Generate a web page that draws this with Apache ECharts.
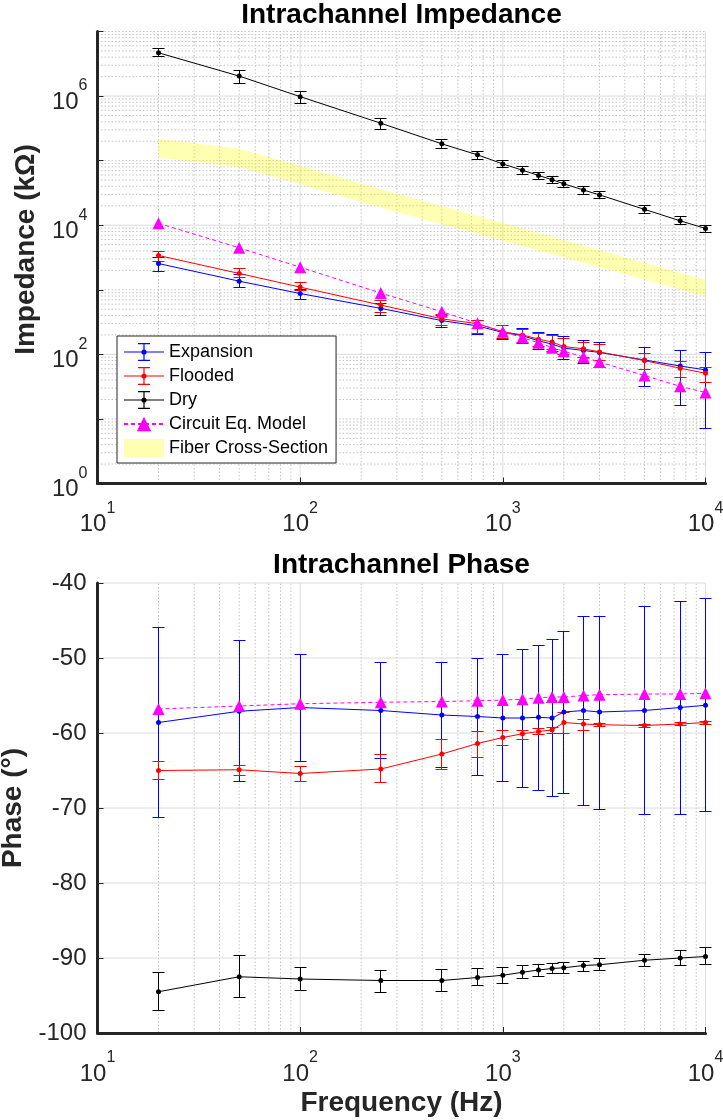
<!DOCTYPE html>
<html>
<head>
<meta charset="utf-8">
<title>Intrachannel Impedance and Phase</title>
<script src="https://cdn.jsdelivr.net/npm/echarts@6/dist/echarts.min.js"></script>
<style>
  html, body { margin: 0; padding: 0; background: #ffffff; }
  #chart { width: 723px; height: 1120px; }
</style>
</head>
<body>
<div id="chart"></div>
<script>
// ---- measurement frequencies (Hz) ----
const freq = [20, 50, 100, 250, 500, 750, 1000, 1250, 1500, 1750, 2000, 2500, 3000, 5000, 7500, 10000];

// ---- impedance magnitude (kOhm) ----
const impExpansion   = [2550, 1360, 875, 515, 333, 276, 218, 195, 162, 144, 125, 115, 107, 82, 66, 57.5];
const impExpansionLo = [1905, 1072, 700, 398, 263, 200, 168, 148, 120, 110, 84, 72, 62, 32, 16, 7];
const impExpansionHi = [3162, 1698, 1000, 603, 398, 339, 275, 248, 219, 204, 190, 162, 151, 129, 115, 107];

const impFlooded   = [3400, 1790, 1100, 580, 355, 298, 224, 200, 172, 155, 132, 122, 109, 80, 61, 51];
const impFloodedLo = [2786, 1549, 977, 447, 275, 214, 178, 155, 132, 117, 100, 89, 79, 57.5, 43.7, 36.3];
const impFloodedHi = [3981, 2138, 1318, 692, 417, 331, 275, 240, 214, 195, 174, 155, 141, 102, 77.6, 63];

const impDry   = [4.68e6, 2.04e6, 9.8e5, 3.8e5, 1.82e5, 1.23e5, 8.9e4, 7.1e4, 5.9e4, 5.07e4, 4.37e4, 3.51e4, 2.95e4, 1.76e4, 1.17e4, 8.9e3];
const impDryLo = [4.07e6, 1.55e6, 7.76e5, 3.09e5, 1.55e5, 1.04e5, 7.76e4, 6.03e4, 5.13e4, 4.37e4, 3.89e4, 3.02e4, 2.57e4, 1.51e4, 1.02e4, 7.6e3];
const impDryHi = [5.37e6, 2.51e6, 1.17e6, 4.47e5, 2.14e5, 1.38e5, 1.0e5, 8.13e4, 6.61e4, 5.75e4, 4.9e4, 3.98e4, 3.31e4, 2.04e4, 1.35e4, 1.0e4];

const impCircuit = [10700, 4470, 2240, 890, 457, 302, 224, 182, 151, 127, 112, 91, 76, 47, 32, 25.7];

// fiber cross-section estimate, drawn as a band between two bounds
const bandFreq  = [20, 50, 100, 250, 1000, 10000];
const bandUpper = [2.19e5, 1.53e5, 8.3e4, 3.6e4, 1.08e4, 1.43e3];
const bandLower = [1.12e5, 7.9e4, 4.3e4, 1.87e4, 5.75e3, 787];

// ---- phase (degrees) ----
const phExpansion   = [-58.6, -57.1, -56.6, -57.0, -57.6, -57.8, -58.0, -58.0, -57.9, -58.0, -57.2, -57.0, -57.2, -57.0, -56.6, -56.3];
const phExpansionLo = [-71.2, -66.4, -63.8, -63.4, -64.6, -65.6, -66.5, -67.3, -67.6, -68.5, -68.0, -69.6, -70.2, -70.9, -70.9, -70.5];
const phExpansionHi = [-45.9, -47.7, -49.5, -50.6, -50.6, -50.1, -49.5, -48.8, -48.3, -47.5, -46.5, -44.4, -44.4, -43.1, -42.4, -42.0];

const phFlooded   = [-65.0, -64.9, -65.4, -64.8, -62.8, -61.4, -60.6, -60.1, -59.8, -59.6, -58.6, -58.8, -58.9, -59.0, -58.8, -58.6];
const phFloodedLo = [-66.2, -65.6, -66.5, -66.6, -64.8, -63.2, -61.7, -60.8, -60.2, -60.0, -60.1, -59.7, -59.1, -59.2, -59.0, -58.8];
const phFloodedHi = [-63.8, -64.3, -64.4, -62.8, -60.8, -59.8, -59.6, -59.6, -59.4, -59.2, -57.2, -58.2, -58.7, -58.8, -58.6, -58.4];

const phDry   = [-94.5, -92.5, -92.8, -93.0, -93.0, -92.6, -92.3, -91.9, -91.6, -91.4, -91.3, -91.0, -90.9, -90.3, -90.0, -89.8];
const phDryLo = [-97.0, -95.2, -94.3, -94.6, -94.4, -93.7, -93.4, -92.7, -92.4, -92.1, -92.0, -91.8, -91.7, -91.1, -91.0, -90.9];
const phDryHi = [-91.9, -89.7, -91.3, -91.6, -91.5, -91.4, -91.2, -91.0, -90.8, -90.7, -90.6, -90.4, -90.1, -89.5, -89.0, -88.6];

const phCircuit = [-56.8, -56.4, -56.1, -55.9, -55.8, -55.7, -55.6, -55.5, -55.3, -55.2, -55.2, -55.0, -54.9, -54.8, -54.8, -54.7];

// ---- axes ----
const freqRange   = [10, 10000];
const impRange    = [1, 1e7];
const phaseRange  = [-100, -40];
const phaseStep   = 10;
const freqMajor   = [10, 100, 1000, 10000];
const impMajor    = [1, 100, 1e4, 1e6];
const phaseMajor  = [-100, -90, -80, -70, -60, -50, -40];

// intermediate log grid positions (2..9 x each decade), plus odd decades on the impedance axis
function logSubdivisions(lo, hi) {
  const out = [];
  for (let d = lo; d < hi; d *= 10) {
    for (let m = 2; m <= 9; m++) out.push(m * d);
  }
  return out;
}
const freqMinor = logSubdivisions(10, 10000);
const impMinor  = logSubdivisions(1, 1e7).concat([10, 1e3, 1e5, 1e7]);

const FONT = '"Liberation Sans", Arial, Helvetica, sans-serif';
const AXIS_COLOR = '#262626';
const BLUE = '#0000ff', RED = '#ff0000', BLACK = '#000000', MAGENTA = '#ff00ff';

const majorStyle = { stroke: '#dcdcdc', lineWidth: 1 };
const minorStyle = { stroke: '#c4c4c4', lineWidth: 1, lineDash: [1.5, 2] };

function verticalGrid(gi, values, yr, style) {
  return {
    type: 'custom', xAxisIndex: gi, yAxisIndex: gi, silent: true, z: 0,
    data: values.map(v => [v, yr[0]]), encode: { x: 0, y: 1 },
    renderItem(params, api) {
      const a = api.coord([api.value(0), yr[0]]);
      const b = api.coord([api.value(0), yr[1]]);
      return { type: 'line', shape: { x1: a[0], y1: a[1], x2: b[0], y2: b[1] }, style };
    }
  };
}
function horizontalGrid(gi, values, style) {
  return {
    type: 'custom', xAxisIndex: gi, yAxisIndex: gi, silent: true, z: 0,
    data: values.map(v => [freqRange[0], v]), encode: { x: 0, y: 1 },
    renderItem(params, api) {
      const a = api.coord([freqRange[0], api.value(1)]);
      const b = api.coord([freqRange[1], api.value(1)]);
      return { type: 'line', shape: { x1: a[0], y1: a[1], x2: b[0], y2: b[1] }, style };
    }
  };
}

// vertical error bar with end caps; x snapped to the pixel centre so the 1px stroke stays crisp
function errorBars(name, gi, lo, hi, color, cap) {
  return {
    name, type: 'custom', xAxisIndex: gi, yAxisIndex: gi, z: 2, silent: true,
    itemStyle: { color },
    data: freq.map((f, i) => [f, lo[i], hi[i]]),
    encode: { x: 0, y: [1, 2] },
    renderItem(params, api) {
      const x = api.value(0);
      const top = api.coord([x, api.value(2)]);
      const bot = api.coord([x, api.value(1)]);
      const px = Math.round(top[0] - 0.5) + 0.5;
      const yt = Math.round(top[1] - 0.5) + 0.5;
      const yb = Math.round(bot[1] - 0.5) + 0.5;
      return {
        type: 'group',
        children: [
          { type: 'line', shape: { x1: px, y1: yt, x2: px, y2: yb }, style: { stroke: color, lineWidth: 1 } },
          { type: 'line', shape: { x1: px - cap, y1: yt, x2: px + cap, y2: yt }, style: { stroke: color, lineWidth: 1 } },
          { type: 'line', shape: { x1: px - cap, y1: yb, x2: px + cap, y2: yb }, style: { stroke: color, lineWidth: 1 } }
        ]
      };
    }
  };
}

function dataLine(name, gi, values, color) {
  return {
    name, type: 'line', xAxisIndex: gi, yAxisIndex: gi, z: 3,
    data: freq.map((f, i) => [f, values[i]]),
    symbol: 'circle', symbolSize: 5, showAllSymbol: true,
    itemStyle: { color },
    lineStyle: { color, width: 1 },
    emphasis: { disabled: true }
  };
}

function modelLine(name, gi, values) {
  return {
    name, type: 'line', xAxisIndex: gi, yAxisIndex: gi, z: 4,
    data: freq.map((f, i) => [f, values[i]]),
    symbol: 'triangle', symbolSize: 12, showAllSymbol: true,
    itemStyle: { color: MAGENTA },
    lineStyle: { color: MAGENTA, width: 1, type: [4, 3] },
    emphasis: { disabled: true }
  };
}

const fiberBand = {
  name: 'Fiber Cross-Section', type: 'custom', xAxisIndex: 0, yAxisIndex: 0, z: 1, silent: true,
  itemStyle: { color: 'rgba(255,255,0,0.3)' },
  data: bandFreq.map((f, i) => [f, bandLower[i], bandUpper[i]]),
  encode: { x: 0, y: [1, 2] },
  renderItem(params, api) {
    if (params.dataIndex !== 0) return null;
    const pts = [];
    for (let i = 0; i < bandFreq.length; i++) pts.push(api.coord([bandFreq[i], bandUpper[i]]));
    for (let i = bandFreq.length - 1; i >= 0; i--) pts.push(api.coord([bandFreq[i], bandLower[i]]));
    return { type: 'polygon', shape: { points: pts }, style: { fill: 'rgba(255,255,0,0.3)' } };
  }
};

// power-of-ten tick labels with superscript exponents
const powRich = {
  b: { fontSize: 24, lineHeight: 36, fontFamily: FONT, color: AXIS_COLOR, verticalAlign: 'bottom' },
  s: { fontSize: 16, lineHeight: 16, fontFamily: FONT, color: AXIS_COLOR, verticalAlign: 'top' }
};
function powLabel(v, everyOther) {
  const e = Math.round(Math.log10(v));
  if (everyOther && e % 2 !== 0) return '';
  return '{b|10}{s|' + e + '}';
}

const axisLine = { show: true, onZero: false, lineStyle: { color: AXIS_COLOR, width: 3 } };
const axisTick = { show: true, inside: true, length: 6, lineStyle: { color: AXIS_COLOR, width: 1 } };

function freqAxis(gi, withName) {
  return {
    type: 'log', logBase: 10, gridIndex: gi, min: freqRange[0], max: freqRange[1],
    axisLine, axisTick, splitLine: { show: false },
    axisLabel: { margin: 17, formatter: v => powLabel(v, false), rich: powRich },
    name: withName ? 'Frequency (Hz)' : '',
    nameLocation: 'middle', nameGap: 56,
    nameTextStyle: { fontSize: 28, fontWeight: 'bold', fontFamily: FONT, color: AXIS_COLOR }
  };
}

// legend glyphs: line with an error bar and a dot
const errorGlyph = 'path://M0 8.4H40V9.6H0Z M19.4 0H20.6V18H19.4Z M14 0H26V1.2H14Z M14 16.8H26V18H14Z M22.6 9A2.6 2.6 0 1 1 17.4 9A2.6 2.6 0 1 1 22.6 9Z';

const option = {
  animation: false,
  backgroundColor: '#ffffff',
  textStyle: { fontFamily: FONT },
  title: [
    { text: 'Intrachannel Impedance', left: 401.5, top: 1, textAlign: 'center', padding: 0,
      textStyle: { fontSize: 28, fontWeight: 'bold', fontFamily: FONT, color: '#000' } },
    { text: 'Intrachannel Phase', left: 401.5, top: 551, textAlign: 'center', padding: 0,
      textStyle: { fontSize: 28, fontWeight: 'bold', fontFamily: FONT, color: '#000' } }
  ],
  grid: [
    { left: 97.5, right: 17.5, top: 31.5, height: 452, outerBoundsMode: 'none', containLabel: false },
    { left: 97.5, right: 17.5, top: 583, height: 450, outerBoundsMode: 'none', containLabel: false }
  ],
  xAxis: [freqAxis(0, false), freqAxis(1, true)],
  yAxis: [
    {
      type: 'log', logBase: 10, gridIndex: 0, min: impRange[0], max: impRange[1],
      axisLine, axisTick, splitLine: { show: false },
      axisLabel: { margin: 10, formatter: v => powLabel(v, true), rich: powRich },
      name: 'Impedance (kΩ)', nameLocation: 'middle', nameGap: 57,
      nameTextStyle: { fontSize: 28, fontWeight: 'bold', fontFamily: FONT, color: AXIS_COLOR, padding: [0, 0, 0, 16] }
    },
    {
      type: 'value', gridIndex: 1, min: phaseRange[0], max: phaseRange[1], interval: phaseStep,
      axisLine, axisTick, splitLine: { show: false },
      axisLabel: { margin: 11, fontSize: 24, fontFamily: FONT, color: AXIS_COLOR },
      name: 'Phase (°)', nameLocation: 'middle', nameGap: 57,
      nameTextStyle: { fontSize: 28, fontWeight: 'bold', fontFamily: FONT, color: AXIS_COLOR }
    }
  ],
  legend: {
    orient: 'vertical', left: 117, top: 336,
    padding: [7, 8, 6, 6], itemGap: 6, itemWidth: 40, itemHeight: 18,
    backgroundColor: '#ffffff', borderColor: AXIS_COLOR, borderWidth: 1, borderRadius: 0,
    selectedMode: false,
    itemStyle: { borderWidth: 0 },
    textStyle: { fontSize: 18, fontFamily: FONT, color: '#000' },
    data: [
      { name: 'Expansion', icon: errorGlyph },
      { name: 'Flooded', icon: errorGlyph },
      { name: 'Dry', icon: errorGlyph },
      { name: 'Circuit Eq. Model' },
      { name: 'Fiber Cross-Section', icon: 'rect' }
    ]
  },
  series: [
    // impedance panel grid
    verticalGrid(0, freqMinor, impRange, minorStyle),
    horizontalGrid(0, impMinor, minorStyle),
    verticalGrid(0, freqMajor, impRange, majorStyle),
    horizontalGrid(0, impMajor, majorStyle),
    // phase panel grid
    verticalGrid(1, freqMinor, phaseRange, minorStyle),
    verticalGrid(1, freqMajor, phaseRange, majorStyle),
    horizontalGrid(1, phaseMajor, majorStyle),

    fiberBand,

    errorBars('Expansion', 0, impExpansionLo, impExpansionHi, BLUE, 6),
    dataLine('Expansion', 0, impExpansion, BLUE),
    errorBars('Flooded', 0, impFloodedLo, impFloodedHi, RED, 6),
    dataLine('Flooded', 0, impFlooded, RED),
    errorBars('Dry', 0, impDryLo, impDryHi, BLACK, 6),
    dataLine('Dry', 0, impDry, BLACK),
    modelLine('Circuit Eq. Model', 0, impCircuit),

    errorBars('Expansion', 1, phExpansionLo, phExpansionHi, BLUE, 6),
    dataLine('Expansion', 1, phExpansion, BLUE),
    errorBars('Flooded', 1, phFloodedLo, phFloodedHi, RED, 6),
    dataLine('Flooded', 1, phFlooded, RED),
    errorBars('Dry', 1, phDryLo, phDryHi, BLACK, 6),
    dataLine('Dry', 1, phDry, BLACK),
    modelLine('Circuit Eq. Model', 1, phCircuit)
  ]
};

const chart = echarts.init(document.getElementById('chart'), null, { renderer: 'canvas' });
chart.setOption(option);
</script>
</body>
</html>
